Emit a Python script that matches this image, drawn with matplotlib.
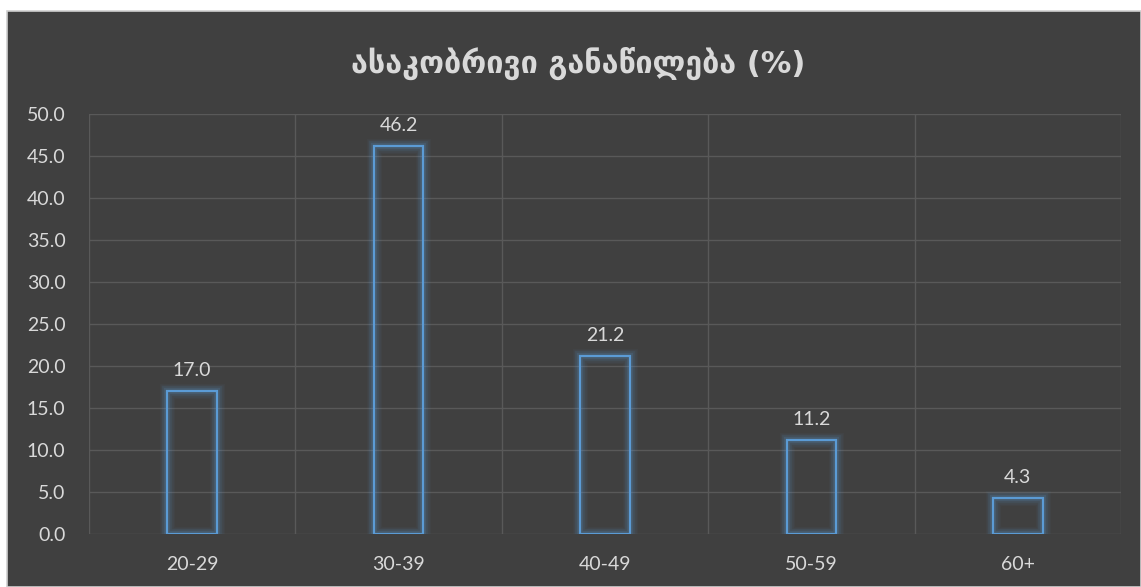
import matplotlib.pyplot as plt
from matplotlib.patches import Rectangle

categories = ["20-29", "30-39", "40-49", "50-59", "60+"]
values = [17.0, 46.2, 21.2, 11.2, 4.3]
title = "ასაკობრივი განაწილება (%)"

W, H = 1141, 587
fig = plt.figure(figsize=(W / 100, H / 100), dpi=100, facecolor="white")

# dark chart panel with a thin light frame
panel = Rectangle((7 / W, 0), 1 - 7 / W, 1 - 11 / H, transform=fig.transFigure,
                  facecolor="#404040", edgecolor="#d0d0d0", linewidth=1.2, zorder=-10)
fig.add_artist(panel)

ax = fig.add_axes([89 / W, (H - 534) / H, (1121 - 89) / W, (534 - 114) / H])
ax.set_facecolor("none")

x = list(range(len(categories)))
bw = 0.24
label_font = "Lato"
label_size = 14

# soft glow around the bar outlines
for lw, a in [(11, 0.04), (9, 0.06), (7, 0.09), (4.5, 0.15)]:
    ax.bar(x, values, width=bw, facecolor="none", edgecolor="#5b9bd5",
           linewidth=lw, alpha=a, zorder=2)
ax.bar(x, values, width=bw, facecolor="none", edgecolor="#5b9bd5",
       linewidth=1.6, zorder=3)

for xi, v in zip(x, values):
    ax.text(xi, v + 1.4, f"{v:.1f}", ha="center", va="bottom",
            color="#d9d9d9", fontsize=label_size, family=label_font)

ax.set_xlim(-0.5, len(categories) - 0.5)
ax.set_ylim(0, 50)
ax.set_yticks([i * 5 for i in range(11)])
ax.set_yticklabels([f"{i * 5:.1f}" for i in range(11)])
ax.set_xticks(x)
ax.set_xticklabels(categories)
ax.tick_params(colors="#d9d9d9", labelsize=label_size, length=0)
ax.tick_params(axis="x", pad=16)
ax.tick_params(axis="y", pad=17)
for lbl in ax.get_xticklabels() + ax.get_yticklabels():
    lbl.set_family(label_font)

# grid: horizontal at each tick, vertical between categories
for yv in ax.get_yticks():
    ax.axhline(yv, color="#595959", linewidth=1, zorder=1)
for b in [i - 0.5 for i in range(len(categories) + 1)]:
    ax.axvline(b, color="#595959", linewidth=1, zorder=1)
for s in ax.spines.values():
    s.set_visible(False)

fig.text(578 / W, 1 - 63 / H, title, ha="center", va="center", color="#d9d9d9",
         fontsize=22, fontweight="bold", family="DejaVu Sans")

fig.savefig("out.png", dpi=100, facecolor=fig.get_facecolor())
